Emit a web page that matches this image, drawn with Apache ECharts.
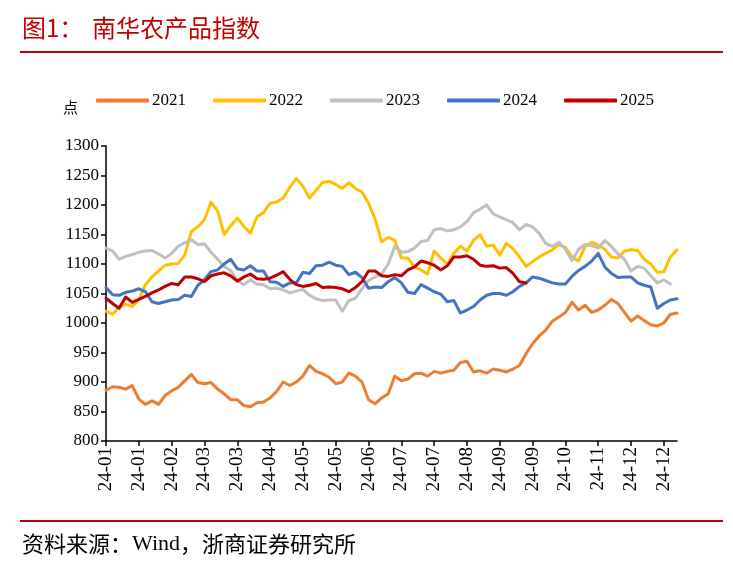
<!DOCTYPE html>
<html>
<head>
<meta charset="utf-8">
<script src="https://cdn.jsdelivr.net/npm/echarts@6/dist/echarts.min.js"></script>
<style>
html,body{margin:0;padding:0;background:#fff;}
#chart{width:733px;height:561px;}
</style>
</head>
<body>
<div id="chart"></div>
<script>
// Tick labels shown every 5 points on the x axis
const tickLabels = ['24-01','24-01','24-02','24-03','24-03','24-04','24-05','24-05','24-06','24-07','24-07','24-08','24-09','24-09','24-10','24-11','24-12','24-12'];
const seriesNames = ['2021','2022','2023','2024','2025'];

const s2021 = [886,892,891,888,894,871,862,868,862,877,885,891,902,913,899,897,899,
  888,880,870,870,860,858,865,866,873,884,900,894,900,910,928,918,914,
  908,897,900,915,910,900,870,863,873,880,910,902,905,914,915,910,918,915,
  918,920,933,935,917,919,915,922,920,917,922,928,948,965,978,988,1003,
  1010,1018,1035,1022,1030,1018,1022,1030,1040,1033,1018,1003,1012,1004,997,995,1000,1015,1017];

const s2022 = [1020,1015,1027,1032,1028,1040,1065,1078,1088,1098,1100,1101,1115,1155,1163,1175,1205,
  1190,1150,1165,1178,1164,1152,1180,1187,1203,1205,1212,1230,1245,1232,1212,1225,1238,
  1240,1235,1228,1238,1228,1222,1203,1176,1138,1145,1140,1110,1110,1095,1090,1083,1122,1110,
  1100,1118,1130,1122,1140,1150,1130,1132,1115,1135,1126,1112,1096,1104,1112,1118,1124,
  1133,1128,1112,1105,1130,1137,1132,1125,1112,1110,1122,1124,1123,1108,1100,1086,1087,1112,1124];

const s2023 = [1127,1122,1108,1113,1116,1120,1122,1123,1117,1110,1118,1130,1136,1141,1133,1134,1120,
  1108,1096,1089,1072,1065,1073,1066,1065,1058,1059,1056,1051,1054,1057,1047,1041,1038,
  1039,1039,1020,1038,1042,1058,1072,1078,1083,1100,1130,1120,1121,1127,1138,1140,1158,1160,
  1156,1158,1163,1172,1187,1193,1200,1185,1180,1175,1170,1158,1167,1163,1152,1135,1130,
  1137,1125,1106,1125,1133,1131,1127,1140,1130,1117,1108,1088,1096,1093,1080,1068,1073,1066];

const s2024 = [1060,1048,1047,1052,1054,1058,1053,1036,1033,1036,1039,1040,1047,1045,1064,1073,1087,
  1090,1100,1108,1092,1090,1097,1088,1088,1070,1069,1062,1068,1068,1086,1084,1097,1098,
  1103,1098,1096,1082,1086,1077,1059,1061,1060,1070,1077,1068,1052,1050,1065,1059,1053,1049,
  1036,1038,1017,1022,1028,1039,1047,1050,1050,1047,1053,1062,1068,1078,1076,1072,1068,
  1066,1066,1079,1089,1096,1105,1118,1095,1084,1077,1078,1078,1068,1064,1061,1025,1033,1039,1041];

const s2025 = [1042,1033,1025,1044,1035,1040,1045,1051,1056,1062,1067,1065,1078,1078,1075,1070,1080,
  1083,1085,1080,1071,1078,1083,1075,1074,1076,1081,1087,1074,1065,1062,1064,1067,1060,
  1061,1060,1058,1053,1060,1070,1088,1088,1080,1079,1082,1080,1090,1095,1105,1102,1098,1090,
  1097,1112,1112,1114,1108,1098,1096,1097,1093,1094,1084,1070,1068];

const colors = ['#ED7D31','#FFC000','#BFBFBF','#4472C4','#C00000'];
const allData = [s2021, s2022, s2023, s2024, s2025];

const nPoints = s2021.length;
const categories = [];
for (let i = 0; i < nPoints; i++) categories.push(tickLabels[Math.min(tickLabels.length - 1, Math.floor(i / 5))]);

const serif = '"Liberation Serif", "Times New Roman", serif';
const cjk = '"Noto Sans CJK SC", sans-serif';

const chart = echarts.init(document.getElementById('chart'), null, {renderer: 'canvas'});
chart.setOption({
  animation: false,
  backgroundColor: '#fff',
  color: colors,
  grid: {left: 106, top: 146, right: 56, bottom: 120, containLabel: false},
  legend: {
    left: 91, top: 87,
    icon: 'roundRect',
    itemWidth: 53, itemHeight: 4, itemGap: 27,
    textStyle: {fontFamily: serif, fontSize: 17, color: '#000', padding: [0, 0, 0, -2]},
    data: seriesNames
  },
  xAxis: {
    type: 'category',
    boundaryGap: false,
    data: categories,
    axisLine: {lineStyle: {color: '#000', width: 1.5}},
    axisTick: {show: true, interval: 4, length: 5, lineStyle: {color: '#000', width: 1.5}},
    axisLabel: {interval: 4, rotate: 90, margin: 6, fontFamily: serif, fontSize: 19, color: '#000'},
    splitLine: {show: false}
  },
  yAxis: {
    type: 'value',
    min: 800, max: 1300, interval: 50,
    axisLine: {show: true, lineStyle: {color: '#000', width: 1.5}},
    axisTick: {show: true, length: 5, lineStyle: {color: '#000', width: 1.5}},
    axisLabel: {margin: 7, fontFamily: serif, fontSize: 17, color: '#000', formatter: v => String(v)},
    splitLine: {show: false}
  },
  series: seriesNames.map((name, k) => ({
    name: name,
    type: 'line',
    data: allData[k],
    symbol: 'none',
    smooth: false,
    lineStyle: {width: 3, color: colors[k], cap: 'round', join: 'round'},
    itemStyle: {color: colors[k]}
  })),
  graphic: [
    {type: 'text', left: 22, top: 16, style: {text: '图1：', font: '24px ' + cjk, fill: '#C00000'}},
    {type: 'text', left: 92, top: 16, style: {text: '南华农产品指数', font: '24px ' + cjk, fill: '#C00000'}},
    {type: 'rect', shape: {x: 20, y: 51, width: 703, height: 2}, style: {fill: '#C00000'}},
    {type: 'text', left: 63, top: 100, style: {text: '点', font: '15px ' + cjk, fill: '#000'}},
    {type: 'rect', shape: {x: 20, y: 520, width: 703, height: 2}, style: {fill: '#C00000'}},
    {type: 'text', left: 22, top: 533, style: {
      text: '{c|资料来源：}{s|Wind}{c|，浙商证券研究所}',
      rich: {
        c: {fontFamily: cjk, fontSize: 22, fill: '#000'},
        s: {fontFamily: serif, fontSize: 22, fill: '#000'}
      }
    }}
  ]
});
</script>
</body>
</html>
